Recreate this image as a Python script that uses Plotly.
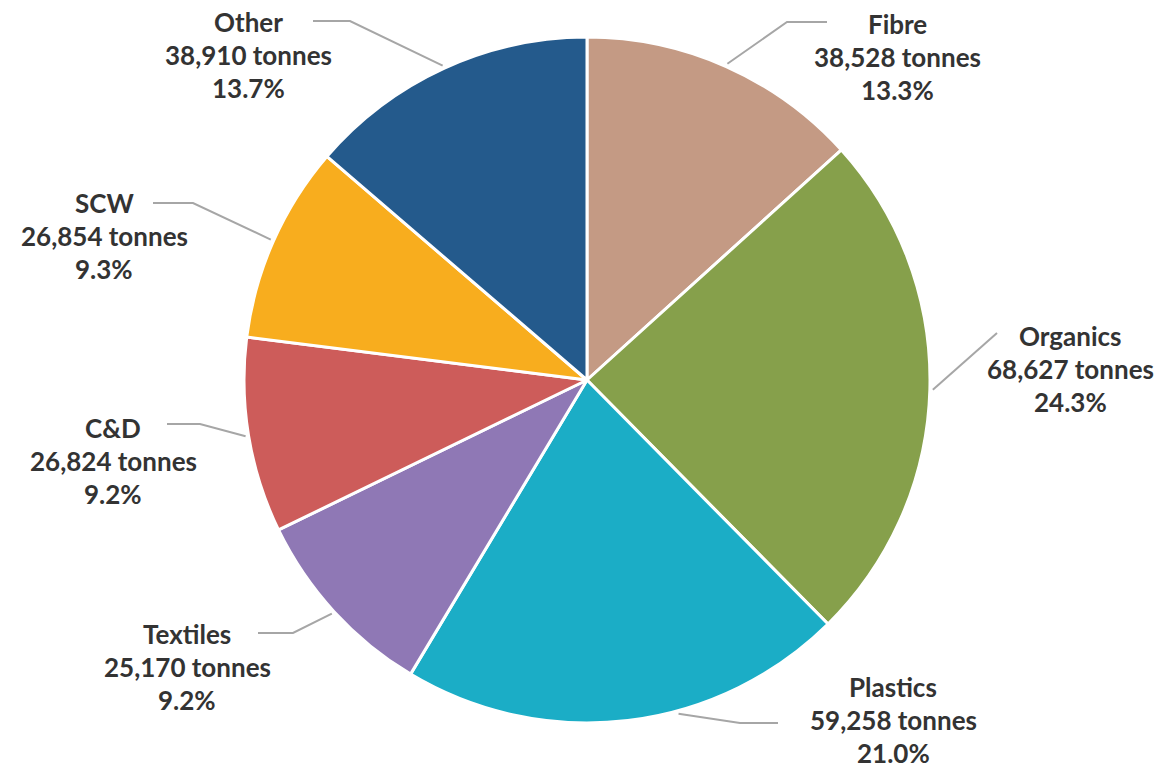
import math
import plotly.graph_objects as go

# ---- data ----
categories = ["Fibre", "Organics", "Plastics", "Textiles", "C&D", "SCW", "Other"]
tonnes = [38528, 68627, 59258, 25170, 26824, 26854, 38910]
percent = [13.3, 24.3, 21.0, 9.2, 9.2, 9.3, 13.7]
colors = ["#C49A84", "#86A04B", "#1BADC6", "#8F78B5", "#CD5C5A", "#F8AD1E", "#245A8C"]

# ---- layout geometry (pixels) ----
W, H = 1165, 769
CX, CY, R = 587, 380, 343
LINE_GAP = 33
# label text centre (x, y of middle line)
label_pos = {
    "Fibre": (897, 57),
    "Organics": (1070, 369),
    "Plastics": (893, 720),
    "Textiles": (187, 667),
    "C&D": (113, 461),
    "SCW": (104, 236),
    "Other": (248, 55),
}
leader_start = {
    "Fibre": (827, 22), "Organics": (997, 333), "Plastics": (778, 723),
    "Textiles": (258, 633), "C&D": (167, 424), "SCW": (153, 203), "Other": (313, 21),
}
elbow = {
    "Fibre": (787, 22), "Organics": None, "Plastics": (740, 723),
    "Textiles": (293, 633), "C&D": (200, 424), "SCW": (193, 203), "Other": (350, 21),
}
# leader end on the pie edge is at the slice mid-angle, except where shifted (degrees)
end_angle_shift = {"Plastics": -8.5}


def px(x):
    return x / W


def py(y):
    return 1 - y / H


fig = go.Figure(go.Pie(
    labels=categories,
    values=percent,
    customdata=tonnes,
    sort=False,
    direction="clockwise",
    rotation=0,
    marker=dict(colors=colors, line=dict(color="white", width=3)),
    textinfo="none",
    hoverinfo="label+value",
    showlegend=False,
    domain=dict(x=[px(CX - R), px(CX + R)], y=[py(CY + R), py(CY - R)]),
))

shapes = []
annotations = []
total = sum(percent)
cum = 0.0
for cat, t, p in zip(categories, tonnes, percent):
    mid = (cum + p / 2) / total * 360 + end_angle_shift.get(cat, 0)
    cum += p
    a = math.radians(mid)
    ex = CX + (R + 3) * math.sin(a)
    ey = CY - (R + 3) * math.cos(a)
    pts = [leader_start[cat]]
    if elbow[cat]:
        pts.append(elbow[cat])
    pts.append((ex, ey))
    path = "M " + " L ".join(f"{px(u):.5f},{py(v):.5f}" for u, v in pts)
    shapes.append(dict(type="path", path=path, xref="paper", yref="paper",
                       line=dict(color="#A6A6A6", width=2)))
    lx, ly = label_pos[cat]
    lines = [cat, f"{t:,} tonnes", f"{p:.1f}%"]
    for i, txt in enumerate(lines):
        annotations.append(dict(
            x=px(lx), y=py(ly + (i - 1) * LINE_GAP), xref="paper", yref="paper",
            text=f"<b>{txt}</b>",
            showarrow=False, xanchor="center", yanchor="middle", align="center",
            borderpad=0,
            font=dict(family="Lato", size=26, color="#333333"),
        ))

fig.update_layout(
    width=W, height=H,
    margin=dict(l=0, r=0, t=0, b=0),
    paper_bgcolor="white", plot_bgcolor="white",
    shapes=shapes, annotations=annotations,
)

fig.write_html("out.html")
